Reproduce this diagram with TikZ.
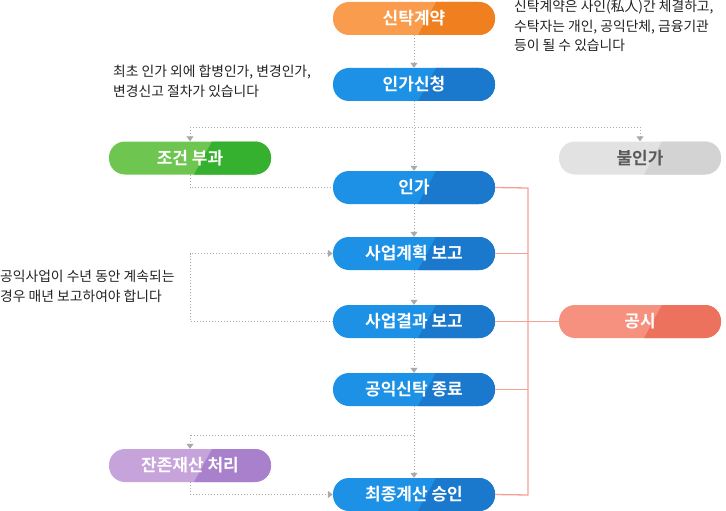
\documentclass[tikz,border=0pt]{standalone}
\usepackage{fontspec}
\setmainfont{Noto Sans CJK KR}[BoldFont={Noto Sans CJK KR Bold}]
\usetikzlibrary{arrows.meta,calc}
\definecolor{orA}{HTML}{F99C4E}\definecolor{orB}{HTML}{F0801F}
\definecolor{blA}{HTML}{1C91E6}\definecolor{blB}{HTML}{1A78CD}
\definecolor{grA}{HTML}{6EC550}\definecolor{grB}{HTML}{36B02F}
\definecolor{gyA}{HTML}{E2E2E2}\definecolor{gyB}{HTML}{D3D3D3}
\definecolor{saA}{HTML}{F6917F}\definecolor{saB}{HTML}{EC725D}
\definecolor{puA}{HTML}{C7A3DC}\definecolor{puB}{HTML}{A980CC}
\definecolor{dotc}{HTML}{AAAAAA}\definecolor{redl}{HTML}{F5A294}
\definecolor{txt}{HTML}{222222}
\tikzset{
  pill/.style 2 args={draw=none, fill=#1, rounded corners=16pt, minimum width=162pt, minimum height=33pt,
    text=white, font=\fontsize{17}{19}\selectfont\bfseries, inner sep=0pt,
    path picture={\fill[#2, sharp corners] ($(path picture bounding box.north)+(22pt,0)$) -- (path picture bounding box.north east) -- (path picture bounding box.south east) -- ($(path picture bounding box.south)+(4pt,0)$) -- cycle;}},
  flow/.style={draw=dotc, line width=1pt, dotted},
  arr/.style={flow, -{Triangle[width=7pt,length=5pt]}},
  pub/.style={draw=redl, line width=1.3pt},
  note/.style={text=txt, font=\fontsize{13.8}{19.5}\selectfont, align=left, inner sep=0pt}
}
\begin{document}
\begin{tikzpicture}[x=1pt,y=-1pt]
\useasboundingbox (0,0) rectangle (726,511);
\node[pill={orA}{orB}] (a) at (414,18.5) {신탁계약};
\node[pill={blA}{blB}] (b) at (414,84.5) {인가신청};
\node[pill={grA}{grB}] (c) at (190,158) {조건 부과};
\node[pill={gyA}{gyB}, text=black!65] (d) at (640,158) {불인가};
\node[pill={blA}{blB}] (e) at (414,187.5) {인가};
\node[pill={blA}{blB}] (f) at (414,253.5) {사업계획 보고};
\node[pill={blA}{blB}] (g) at (414,321.5) {사업결과 보고};
\node[pill={saA}{saB}] (h) at (640,321.5) {공시};
\node[pill={blA}{blB}] (i) at (414,389.5) {공익신탁 종료};
\node[pill={puA}{puB}] (j) at (190,465.5) {잔존재산 처리};
\node[pill={blA}{blB}] (k) at (414,494.5) {최종계산 승인};

\node[note, anchor=north west] (n1) at (514,0) {신탁계약은 사인(私人)간 체결하고,\\수탁자는 개인, 공익단체, 금융기관\\등이 될 수 있습니다};
\node[note, anchor=north west] (n2) at (113,65) {최초 인가 외에 합병인가, 변경인가,\\변경신고 절차가 있습니다};
\node[note, anchor=north west] (n3) at (0,270) {공익사업이 수년 동안 계속되는\\경우 매년 보고하여야 합니다};

\coordinate (j1) at (414,127);
\coordinate (j2) at (414,435);
\coordinate (bt) at (528,188);
\coordinate (bb) at (528,495);

% publication bus
\draw[pub] (e.east) -- (bt) -- (bb) -- (k.east);
\draw[pub] (f.east) -- (f.east -| bt);
\draw[pub] (g.east) -- (h.west);
\draw[pub] (i.east) -- (i.east -| bt);

% flow
\draw[arr] (a.south) -- (b.north);
\draw[arr] (b.south) -- (e.north);
\draw[flow] (c.north |- j1) -- (d.north |- j1);
\draw[arr] (c.north |- j1) -- (c.north);
\draw[arr] (d.north |- j1) -- (d.north);
\draw[flow] (c.south) |- (e.west);
\draw[arr] (e.south) -- (f.north);
\draw[arr] (f.south) -- (g.north);
\draw[arr] (g.west) -- (190,321.5) |- (f.west);
\draw[arr] (g.south) -- (i.north);
\draw[arr] (i.south) -- (k.north);
\draw[flow] (j2) -- (j.north |- j2);
\draw[arr] (j.north |- j2) -- (j.north);
\draw[arr] (j.south) |- (k.west);
\end{tikzpicture}
\end{document}
